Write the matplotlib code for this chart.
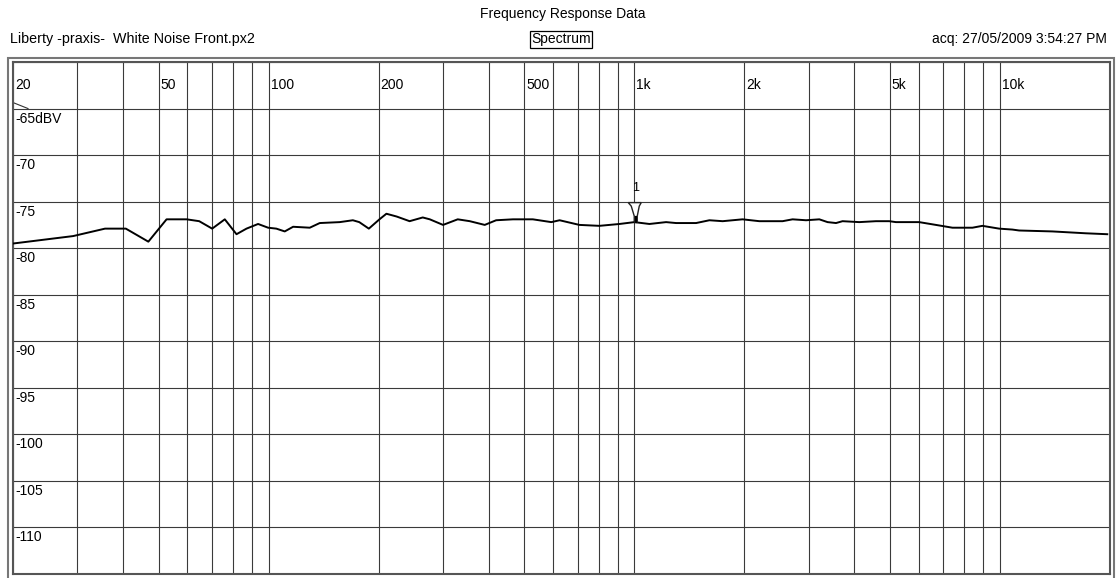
import matplotlib
matplotlib.use("Agg")
import matplotlib.pyplot as plt
from matplotlib import transforms as mtransforms
from matplotlib.patches import Rectangle, Polygon

plt.rcParams['font.family'] = ['Liberation Sans', 'DejaVu Sans']

# trace (Hz, dBV)
freq_hz = [20, 29.2, 35.7, 40.7, 46.9, 52.6, 59.7, 64.6, 70.1, 75.9, 81.7, 87, 93.6,
           99.7, 105, 110.7, 116.7, 129.6, 138, 156.5, 170, 177, 188, 201, 210, 224,
           243, 264, 276, 300, 329, 355, 390, 419, 466, 528, 593, 625, 708, 803, 911,
           1001, 1100, 1222, 1301, 1476, 1605, 1745, 1978, 2198, 2545, 2710, 2950,
           3207, 3378, 3562, 3712, 4124, 4580, 4980, 5194, 6012, 6682, 7416, 8412,
           8956, 9950, 10816, 11284, 13914, 15454, 17166, 19662]
level_dbv = [-79.5, -78.7, -77.9, -77.9, -79.3, -76.9, -76.9, -77.1, -77.9, -76.9,
             -78.5, -77.9, -77.4, -77.8, -77.9, -78.2, -77.7, -77.8, -77.3, -77.2,
             -77.0, -77.2, -77.9, -76.9, -76.3, -76.6, -77.1, -76.7, -76.9, -77.5,
             -76.9, -77.1, -77.5, -77.0, -76.9, -76.9, -77.2, -77.0, -77.5, -77.6,
             -77.4, -77.2, -77.4, -77.2, -77.3, -77.3, -77.0, -77.1, -76.9, -77.1,
             -77.1, -76.9, -77.0, -76.9, -77.2, -77.3, -77.1, -77.2, -77.1, -77.1,
             -77.2, -77.2, -77.5, -77.8, -77.8, -77.6, -77.9, -78.0, -78.1, -78.2,
             -78.3, -78.4, -78.5]

x_label_vals = [20, 50, 100, 200, 500, 1000, 2000, 5000, 10000]
x_label_text = ['20', '50', '100', '200', '500', '1k', '2k', '5k', '10k']
y_label_vals = [-65, -70, -75, -80, -85, -90, -95, -100, -105, -110]
y_label_text = ['-65dBV', '-70', '-75', '-80', '-85', '-90', '-95', '-100', '-105', '-110']
marker_freq = 1000
marker_db = -77.2

W, H = 1117, 578
fig = plt.figure(figsize=(W / 100, H / 100), dpi=100)
ax = fig.add_axes([13 / W, 4 / H, 1097 / W, 512 / H])

ax.set_xscale('log')
ax.set_xlim(20, 20000)
ax.set_ylim(-115, -60)

# grid: every 1-2-3...9 per decade, every 5 dB
vgrid = [m * 10 ** d for d in range(1, 5) for m in range(1, 10)]
vgrid = [v for v in vgrid if 20 <= v <= 20000]
ax.set_xticks(vgrid)
ax.set_xticks([], minor=True)
ax.set_yticks(range(-115, -59, 5))
ax.tick_params(which='both', length=0, labelbottom=False, labelleft=False)
ax.grid(True, color='#3a3a3a', linewidth=0.8)
for s in ax.spines.values():
    s.set_color('#555555')
    s.set_linewidth(1.5)

ax.plot(freq_hz, level_dbv, color='black', linewidth=1.4, zorder=3)

# labels sit inside the plot, like the analyser does it
xl_trans = mtransforms.offset_copy(ax.get_xaxis_transform(), fig=fig, x=2, y=-27, units='dots')
for v, t in zip(x_label_vals, x_label_text):
    ax.text(v, 1.0, t, transform=xl_trans, ha='left', va='baseline', fontsize=10)
yl_trans = mtransforms.offset_copy(ax.get_yaxis_transform(), fig=fig, x=2, y=-3, units='dots')
for v, t in zip(y_label_vals, y_label_text):
    ax.text(0.0, v, t, transform=yl_trans, ha='left', va='top', fontsize=10)

# small start tick under "20"
px = fig.dpi_scale_trans
start_trans = px + mtransforms.ScaledTranslation(20, -65, ax.transData)
ax.plot([0, 0.15], [0.06, 0], transform=start_trans, color='#333333', linewidth=0.8, clip_on=False)

# cursor 1 at 1 kHz
mk_trans = px + mtransforms.ScaledTranslation(marker_freq, marker_db, ax.transData)
arrow = Polygon([(-0.06, 0.195), (0.07, 0.195), (0.05, 0.16), (0.03, 0.06), (0.03, 0.0),
                 (0.0, 0.0), (0.0, 0.06), (-0.03, 0.16)],
                closed=True, facecolor='white', edgecolor='#222222', linewidth=1.0,
                transform=mk_trans, zorder=4)
ax.add_patch(arrow)
ax.plot([0.015, 0.015], [0.0, 0.05], transform=mk_trans, color='black', linewidth=1.6, zorder=5)
ax.text(0.015, 0.34, '1', transform=mk_trans, ha='center', va='center', fontsize=9, zorder=4)

# outer frame
fig.add_artist(Rectangle((8 / W, -0.02), 1106 / W, 1.02 - 58 / H, transform=fig.transFigure,
                         fill=False, edgecolor='#777777', linewidth=1.5))

# header
fig.text(563 / W, 1 - 14 / H, 'Frequency Response Data', ha='center', va='center', fontsize=10)
fig.text(10 / W, 1 - 39 / H, 'Liberty -praxis-  White Noise Front.px2', ha='left', va='center', fontsize=10.3)
fig.text(561 / W, 1 - 39.5 / H, 'Spectrum', ha='center', va='center', fontsize=10,
         bbox=dict(boxstyle='square,pad=0.12', facecolor='white', edgecolor='black', linewidth=0.9))
fig.text(1107 / W, 1 - 39 / H, 'acq: 27/05/2009 3:54:27 PM', ha='right', va='center', fontsize=10)

fig.savefig('out.png', dpi=100)
